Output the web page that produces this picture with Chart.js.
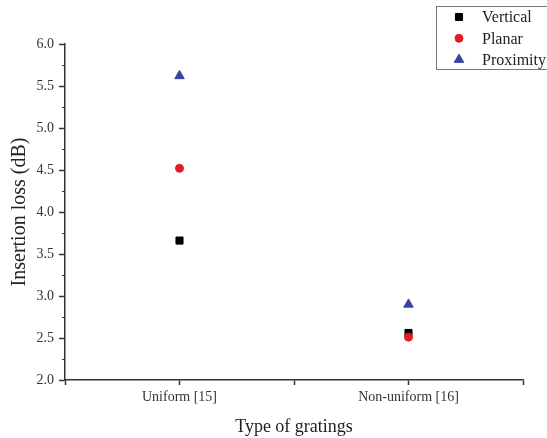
<!DOCTYPE html>
<html>
<head>
<meta charset="utf-8">
<script src="https://cdn.jsdelivr.net/npm/chart.js@4.4.0/dist/chart.umd.min.js"></script>
<style>
    body { margin: 0; background: #fff; }
    #myChart { display: block; }
</style>
</head>
<body>
<canvas id="myChart" width="547" height="438"></canvas>
<script>
// --------------------------- DATA ---------------------------

const categories = ['Uniform [15]', 'Non-uniform [16]'];
const catPos = [1, 2];                                   // where each grating type sits on the x axis

const vertical = [3.66, 2.56];
const planar = [4.52, 2.51];
const proximity = [5.62, 2.90];

const yMin = 2.0, yMax = 6.0, yStep = 0.5;

const serif = '"Liberation Serif", "Times New Roman", serif';
const axisColor = '#333';

// build {x, y} points for one series
const toPoints = (values) => values.map((v, i) => ({ x: catPos[i], y: v }));

// --------------------------- PLUGINS ---------------------------

// small minor ticks between the y majors + legend box in the corner
const extras = {
    id: 'extras',
    afterDraw: (chart) => {
        const ctx = chart.ctx;
        const yScale = chart.scales.y;
        const left = chart.chartArea.left;

        ctx.save();
        ctx.strokeStyle = axisColor;
        ctx.lineWidth = 1;
        for (let v = yMin + yStep / 2; v < yMax; v += yStep) {
            const py = Math.round(yScale.getPixelForValue(v)) + 0.5;
            ctx.beginPath();
            ctx.moveTo(left, py);
            ctx.lineTo(left - 3, py);
            ctx.stroke();
        }

        // legend
        ctx.strokeStyle = '#777';
        ctx.strokeRect(436.5, 6.5, 120, 63);
        ctx.font = '16px ' + serif;
        ctx.textBaseline = 'middle';
        chart.data.datasets.forEach((ds, i) => {
            const y = 17 + i * 21.3;
            ctx.fillStyle = ds.backgroundColor;
            ctx.strokeStyle = ds.borderColor;
            Chart.helpers.drawPoint(ctx, {
                pointStyle: ds.pointStyle,
                radius: ds.pointRadius,
                rotation: 0,
                borderWidth: 1
            }, 459, y);
            ctx.fillStyle = '#222';
            ctx.fillText(ds.label, 482, y + 1);
        });
        ctx.restore();
    }
}; // end extras

// --------------------------- CHART ---------------------------

let ctx = document.querySelector('#myChart');
let myChart = new Chart(ctx, {
    type: 'scatter',
    data: {
        datasets: [{
            label: 'Vertical',
            data: toPoints(vertical),
            pointStyle: 'rect',
            pointRadius: 5,
            backgroundColor: '#000000',
            borderColor: '#000000',
            order: 3
        }, {
            label: 'Planar',
            data: toPoints(planar),
            pointStyle: 'circle',
            pointRadius: 4,
            backgroundColor: '#e31b23',
            borderColor: '#e31b23',
            order: 2
        }, {
            label: 'Proximity',
            data: toPoints(proximity),
            pointStyle: 'triangle',
            pointRadius: 5.5,
            backgroundColor: '#3645a0',
            borderColor: '#3645a0',
            order: 1
        }]
    },
    options: {
        responsive: false,
        animation: false,
        layout: { padding: { top: 44, right: 24, left: 0, bottom: 0 } },
        plugins: {
            legend: { display: false },
            tooltip: { enabled: false }
        },
        scales: {
            x: {
                type: 'linear',
                min: 0.5,
                max: 2.5,
                afterFit: (scale) => { scale.height = 58; },
                border: { display: true, color: axisColor, width: 1.5 },
                grid: { drawOnChartArea: false, drawTicks: true, tickLength: 5, color: axisColor, tickWidth: 1.5 },
                ticks: {
                    stepSize: 0.5,
                    autoSkip: false,
                    maxRotation: 0,
                    padding: 4,
                    color: '#333',
                    font: { family: serif, size: 14 },
                    callback: (v) => {
                        const i = catPos.indexOf(v);
                        return i >= 0 ? categories[i] : '';
                    }
                },
                title: {
                    display: true,
                    text: 'Type of gratings',
                    color: '#222',
                    font: { family: serif, size: 18 },
                    padding: { top: 0, bottom: 0 }
                }
            },
            y: {
                min: yMin,
                max: yMax,
                afterFit: (scale) => { scale.width = 65; },
                border: { display: true, color: axisColor, width: 1.5 },
                grid: { drawOnChartArea: false, drawTicks: true, tickLength: 6, color: axisColor, tickWidth: 1.5 },
                ticks: {
                    stepSize: yStep,
                    padding: 5,
                    color: '#333',
                    font: { family: serif, size: 14 },
                    callback: (v) => v.toFixed(1)
                },
                title: {
                    display: true,
                    text: 'Insertion loss (dB)',
                    color: '#222',
                    font: { family: serif, size: 20 },
                    padding: { top: 8, bottom: 0 }
                }
            }
        }
    },
    plugins: [extras]
});
</script>
</body>
</html>
